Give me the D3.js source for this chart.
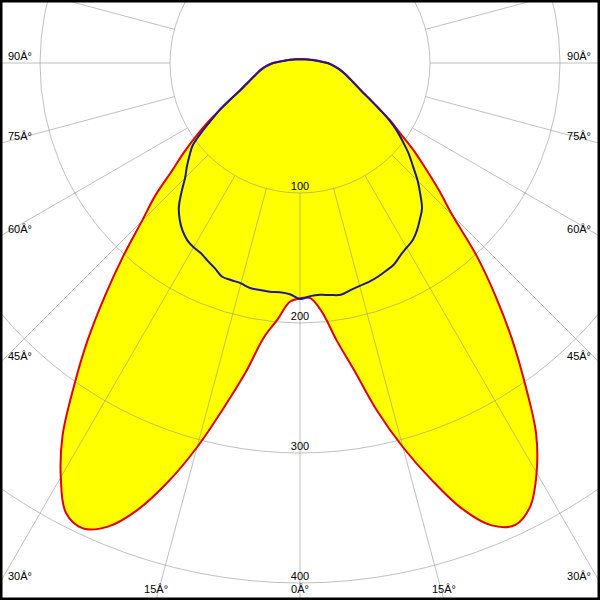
<!DOCTYPE html>
<html>
<head>
<meta charset="utf-8">
<script src="https://cdn.jsdelivr.net/npm/d3@7"></script>
<style>
html,body{margin:0;padding:0;background:#fff;}
svg{display:block;}
text{font-family:"Liberation Sans",Arial,sans-serif;font-size:11px;fill:#000;}
</style>
</head>
<body>
<svg id="chart" width="600" height="600"></svg>
<script>
// gamma angles (deg, 0 = straight down)
const gammas = [0,2.5,5,7.5,10,12.5,15,17.5,20,22.5,25,27.5,30,32.5,35,37.5,40,42.5,45,47.5,50,52.5,55,57.5,60,62.5,65,70,75,80,85,90,95,100,105,110,120,135,150,165,180];
// C0 (right) and C180 (left) plane, cd
const redRight = [181,181,192,215,240,274,306,336,365,385,392,384,364,338,302,268,234,201,166,145,126,110,94,82,70,61,53.5,44,37.5,32,26.5,21.5,15.5,12,9.5,7.8,5.8,4.3,3.5,3.2,3.1];
const redLeft  = [181,184,198,213,242,272,306,338,366,386,395,390,368,340,303,268,233,201,172,151,128,112,97,83,70,60,52,42,35.5,31,26,21,15,11.5,9.3,7.7,5.7,4.3,3.5,3.2,3.1];
// C90 (right) and C270 (left) plane, cd
const blueRight = [181.5,179.5,179,180,181,179,177.5,176.5,175,173,171,167,164,161.5,157,151.5,146,137,128,118,109.5,100,91,81,70,60.5,53,43.5,37,31.5,26,21,15,11.5,9,7.3,5.3,3.9,3.1,2.8,2.7];
const blueLeft  = [181.5,178,177,177.5,177.3,177.3,175.5,175.2,175,171,168,165,163.7,161.5,157.5,152,145,135,125,118,111,104,92,80,70.5,60,51.5,42,35.5,30.5,25.5,20.5,14.5,11,8.8,7.2,5.2,3.9,3.1,2.8,2.7];
const radiusTicks = [100,200,300,400];
const angleTicks = [0,15,30,45,60,75,90];
const angleLabels = ["0Â°","15Â°","30Â°","45Â°","60Â°","75Â°","90Â°"];

const W = 600, H = 600, cx = 300, cy = 63;
const svg = d3.select("#chart");
const r = d3.scaleLinear().domain([0,400]).range([0,520]);

svg.append("defs").append("clipPath").attr("id","clip")
  .append("rect").attr("x",0).attr("y",0).attr("width",W).attr("height",H);

const g = svg.append("g").attr("clip-path","url(#clip)");
const plot = g.append("g").attr("transform",`translate(${cx},${cy})`);
const rad = d => d*Math.PI/180;

function curvePoints(rightVals,leftVals){
  const pts = [];
  gammas.forEach((gm,i)=>pts.push([Math.PI - rad(gm), r(rightVals[i])]));
  for(let i=gammas.length-2;i>=1;i--) pts.push([Math.PI + rad(gammas[i]), r(leftVals[i])]);
  return pts;
}
const line = d3.lineRadial().angle(d=>d[0]).radius(d=>d[1]).curve(d3.curveCatmullRomClosed.alpha(0.5));

const redPts = curvePoints(redRight, redLeft);
const bluePts = curvePoints(blueRight, blueLeft);

// fill
plot.append("path").attr("d", line(redPts)).attr("fill","#ffff00").attr("stroke","none");

// grid
const grid = plot.append("g").attr("stroke","#8c8c8c").attr("stroke-opacity",0.55).attr("fill","none").attr("stroke-width",1);
radiusTicks.forEach(t=>grid.append("circle").attr("r",r(t)));
for(let a=0;a<360;a+=15){
  const x1 = r(100)*Math.sin(rad(a)), y1 = r(100)*Math.cos(rad(a));
  const x2 = 1000*Math.sin(rad(a)), y2 = 1000*Math.cos(rad(a));
  grid.append("line").attr("x1",x1).attr("y1",y1).attr("x2",x2).attr("y2",y2);
}

// curves
plot.append("path").attr("d", line(redPts)).attr("fill","none").attr("stroke","#e00000").attr("stroke-width",2);
plot.append("path").attr("d", line(bluePts)).attr("fill","none").attr("stroke","#1a1a96").attr("stroke-width",2);

// radius labels
radiusTicks.forEach(t=>{
  g.append("text").attr("x",cx).attr("y",cy + r(t) - 3).attr("text-anchor","middle").text(String(t));
});

// angle labels
angleTicks.forEach((a,i)=>{
  [-1,1].forEach(side=>{
    if(a===0 && side===-1) return;
    const s = Math.sin(rad(a)), c = Math.cos(rad(a));
    const tBottom = c>1e-6 ? (H - cy)/c : Infinity;
    const tSide = s>1e-6 ? (W/2)/s : Infinity;
    const txt = g.append("text").text(angleLabels[i]);
    if(tBottom <= tSide){
      txt.attr("x", cx + side*tBottom*s).attr("y", 593).attr("text-anchor","middle");
    } else {
      const yHit = cy + tSide*c;
      if(side<0) txt.attr("x",8).attr("y",yHit-3).attr("text-anchor","start");
      else txt.attr("x",591).attr("y",yHit-3).attr("text-anchor","end");
    }
  });
});

// frame
svg.append("rect").attr("x",1.25).attr("y",1.25).attr("width",W-2.5).attr("height",H-2.5)
  .attr("fill","none").attr("stroke","#000").attr("stroke-width",2.5);
</script>
</body>
</html>
